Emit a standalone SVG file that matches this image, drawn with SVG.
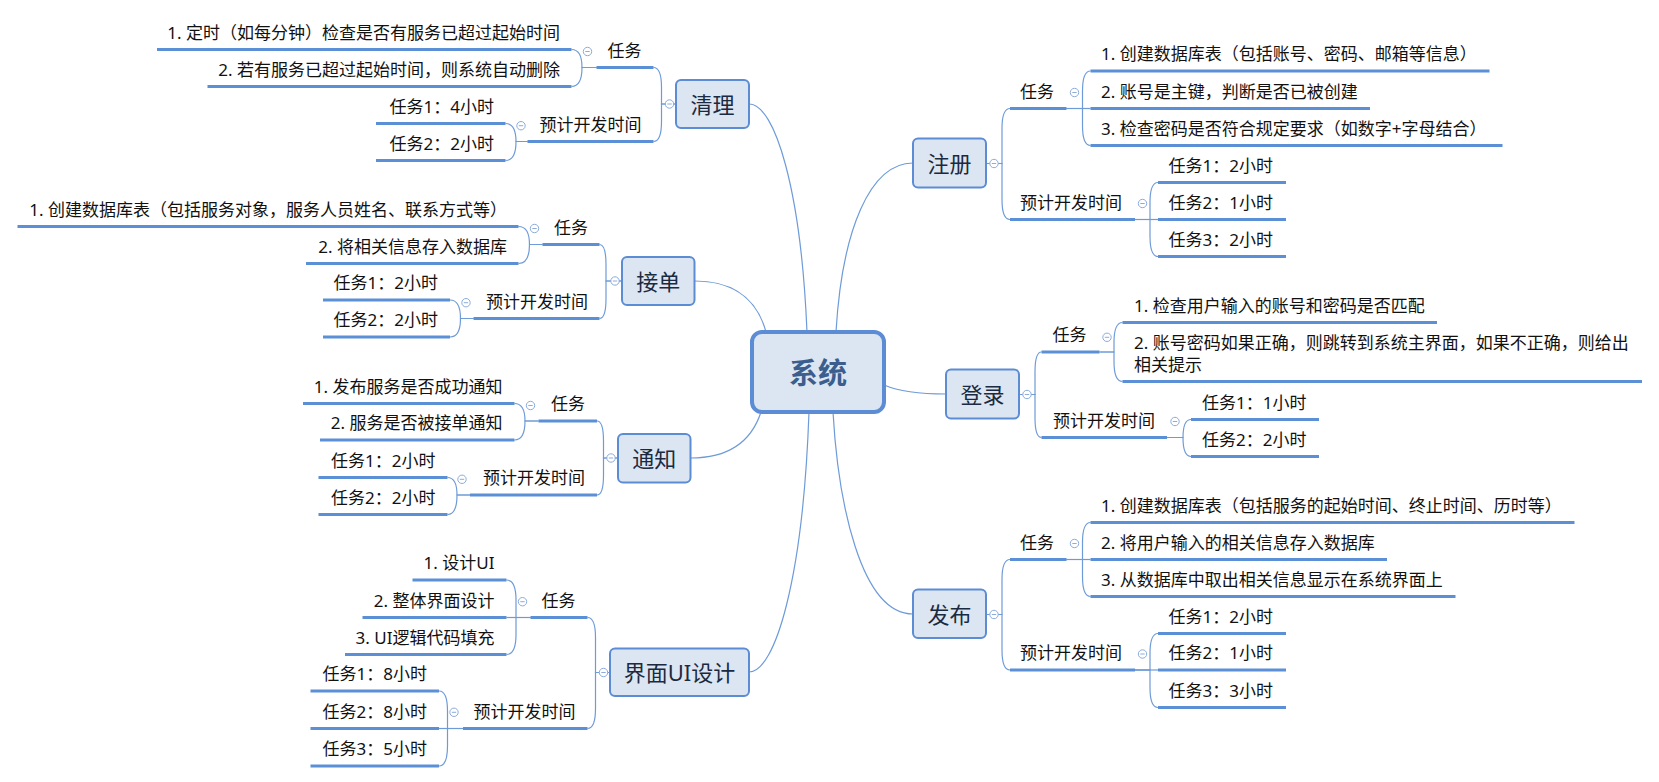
<svg xmlns="http://www.w3.org/2000/svg" xmlns:xlink="http://www.w3.org/1999/xlink" width="1659" height="782" viewBox="0 0 1659 782">
<style>
.box{fill:#dce6f2;stroke:#5b8cd4;stroke-width:2}
.root{fill:#dce6f2;stroke:#5b8cd4;stroke-width:4}
.ul{stroke:#5b8fd6;stroke-width:3;fill:none}
.ln{stroke:#6e9bd8;stroke-width:1.2;fill:none}
.t{font-family:"Noto Sans","Noto Sans CJK SC",sans-serif;font-size:17px;fill:#111}
.e{text-anchor:end}
.nt{font-family:"Noto Sans","Noto Sans CJK SC",sans-serif;font-size:22px;fill:#1b2a40;text-anchor:middle;dominant-baseline:central}
.rt{font-family:"Noto Sans","Noto Sans CJK SC",sans-serif;font-size:29px;font-weight:bold;fill:#3b5e8f;text-anchor:middle;dominant-baseline:central}
</style>
<defs>
<g id="tog"><circle r="4.2" fill="#fff" stroke="#8cacdc" stroke-width="1"/><line x1="-2.2" y1="0" x2="2.2" y2="0" stroke="#8cacdc" stroke-width="1"/></g>
</defs>
<rect width="1659" height="782" fill="#fff"/>
<g id="connectors" class="ln">
<path d="M807,332 C801,190 775,104 749,104"/>
<path d="M766,332 Q752,281 694.5,281"/>
<path d="M761,412 Q746,458 690.5,458"/>
<path d="M809,412 C803,580 775,672 749,672"/>
<path d="M836,332 C842,230 870,163 913,163"/>
<path d="M884,385 Q905,394 946,394"/>
<path d="M833,412 C838,500 860,614 913,614"/>
<!-- 清理 -->
<path d="M676,104 H661.5 V87.5 Q661.5,67.5 653.5,67.5"/>
<path d="M676,104 H661.5 V121.5 Q661.5,141.5 653.5,141.5"/>
<path d="M596.5,67.5 H582 Q582,49.5 571.5,49.5"/>
<path d="M596.5,67.5 H582 Q582,86.5 571.5,86.5"/>
<path d="M527.5,141.5 H516 Q516,123.5 505.5,123.5"/>
<path d="M527.5,141.5 H516 Q516,160.5 505.5,160.5"/>
<!-- 接单 -->
<path d="M622,281 H606 V264.5 Q606,244.5 599.5,244.5"/>
<path d="M622,281 H606 V298.5 Q606,318.5 599.5,318.5"/>
<path d="M542.5,244.5 H529.5 Q529.5,226.5 518.5,226.5"/>
<path d="M542.5,244.5 H529.5 Q529.5,263.5 518.5,263.5"/>
<path d="M473.5,318.5 H460.5 Q460.5,300 450,300"/>
<path d="M473.5,318.5 H460.5 Q460.5,337 450,337"/>
<!-- 通知 -->
<path d="M618,458 H603.5 V441 Q603.5,421 597,421"/>
<path d="M618,458 H603.5 V475 Q603.5,495 597,495"/>
<path d="M538.5,421 H525 Q525,403.5 514.5,403.5"/>
<path d="M538.5,421 H525 Q525,440 514.5,440"/>
<path d="M470,495 H457 Q457,477.5 447.5,477.5"/>
<path d="M470,495 H457 Q457,514.5 447.5,514.5"/>
<!-- 界面UI设计 -->
<path d="M610,672.5 H595.5 V637.5 Q595.5,617.5 587.5,617.5"/>
<path d="M610,672.5 H595.5 V708.5 Q595.5,728.5 587.5,728.5"/>
<path d="M530.5,617.5 H516 V600 Q516,580 506.5,580"/>
<path d="M530.5,617.5 H506.5"/>
<path d="M530.5,617.5 H516 V634.5 Q516,654.5 506.5,654.5"/>
<path d="M463,728.5 H447.5 V711 Q447.5,691 439,691"/>
<path d="M463,728.5 H439"/>
<path d="M463,728.5 H447.5 V746 Q447.5,766 439,766"/>
<!-- 注册 -->
<path d="M986,163.5 H1002 V128.5 Q1002,108.5 1010,108.5"/>
<path d="M986,163.5 H1002 V199.5 Q1002,219.5 1010,219.5"/>
<path d="M1066.5,108.5 H1082.5 V91 Q1082.5,71 1090.5,71"/>
<path d="M1066.5,108.5 H1090.5"/>
<path d="M1066.5,108.5 H1082.5 V125.5 Q1082.5,145.5 1090.5,145.5"/>
<path d="M1135,219.5 H1150 V202.5 Q1150,182.5 1158,182.5"/>
<path d="M1135,219.5 H1158"/>
<path d="M1135,219.5 H1150 V236.5 Q1150,256.5 1158,256.5"/>
<!-- 登录 -->
<path d="M1019,394.5 H1035 V372 Q1035,352 1041.5,352"/>
<path d="M1019,394.5 H1035 V417.5 Q1035,437.5 1041.5,437.5"/>
<path d="M1099.5,352 H1114 V342.5 Q1114,322.5 1122.5,322.5"/>
<path d="M1099.5,352 H1114 V361.5 Q1114,381.5 1122.5,381.5"/>
<path d="M1167,437.5 H1183 Q1183,419.5 1191,419.5"/>
<path d="M1167,437.5 H1183 Q1183,456.5 1191,456.5"/>
<!-- 发布 -->
<path d="M986,614.5 H1002 V579.5 Q1002,559.5 1010,559.5"/>
<path d="M986,614.5 H1002 V650 Q1002,670 1010,670"/>
<path d="M1066.5,559.5 H1082.5 V542.5 Q1082.5,522.5 1090.5,522.5"/>
<path d="M1066.5,559.5 H1090.5"/>
<path d="M1066.5,559.5 H1082.5 V576.5 Q1082.5,596.5 1090.5,596.5"/>
<path d="M1135,670 H1150 V653.5 Q1150,633.5 1158,633.5"/>
<path d="M1135,670 H1158"/>
<path d="M1135,670 H1150 V687.5 Q1150,707.5 1158,707.5"/>
</g>

<g id="root"><rect class="root" x="752" y="332" width="132" height="80" rx="10"/><text class="rt" x="818" y="372">系统</text></g>

<!-- 清理 -->
<g id="n-qingli"><rect class="box" x="676" y="80" width="73" height="48" rx="5"/><text class="nt" x="712.5" y="104">清理</text><use href="#tog" x="669.5" y="104"/></g>
<g id="qingli-task"><path class="ul" d="M596.5,67.5 H653.5"/><text class="t e" x="641.5" y="56.5">任务</text><use href="#tog" x="587.5" y="51.5"/></g>
<g id="qingli-task-1"><path class="ul" d="M157,49.5 H571.5"/><text class="t e" x="560" y="38.5">1. 定时（如每分钟）检查是否有服务已超过起始时间</text></g>
<g id="qingli-task-2"><path class="ul" d="M207.5,86.5 H571.5"/><text class="t e" x="560" y="75.5">2. 若有服务已超过起始时间，则系统自动删除</text></g>
<g id="qingli-time"><path class="ul" d="M527.5,141.5 H653.5"/><text class="t e" x="641.5" y="130.5">预计开发时间</text><use href="#tog" x="521" y="125.7"/></g>
<g id="qingli-time-1"><path class="ul" d="M376,123.5 H505.5"/><text class="t e" x="494" y="112.5">任务1：4小时</text></g>
<g id="qingli-time-2"><path class="ul" d="M376,160.5 H505.5"/><text class="t e" x="494" y="149.5">任务2：2小时</text></g>

<!-- 接单 -->
<g id="n-jiedan"><rect class="box" x="622" y="257" width="72.5" height="48" rx="5"/><text class="nt" x="658.25" y="281">接单</text><use href="#tog" x="615" y="281"/></g>
<g id="jiedan-task"><path class="ul" d="M542.5,244.5 H599.5"/><text class="t e" x="588" y="233.5">任务</text><use href="#tog" x="534.5" y="228.5"/></g>
<g id="jiedan-task-1"><path class="ul" d="M17.5,226.5 H518.5"/><text class="t e" x="507" y="215.5">1. 创建数据库表（包括服务对象，服务人员姓名、联系方式等）</text></g>
<g id="jiedan-task-2"><path class="ul" d="M306,263.5 H518.5"/><text class="t e" x="507" y="252.5">2. 将相关信息存入数据库</text></g>
<g id="jiedan-time"><path class="ul" d="M473.5,318.5 H599.5"/><text class="t e" x="588" y="307.5">预计开发时间</text><use href="#tog" x="466" y="302.7"/></g>
<g id="jiedan-time-1"><path class="ul" d="M323,300 H450"/><text class="t e" x="438" y="289">任务1：2小时</text></g>
<g id="jiedan-time-2"><path class="ul" d="M323,337 H450"/><text class="t e" x="438" y="326">任务2：2小时</text></g>

<!-- 通知 -->
<g id="n-tongzhi"><rect class="box" x="618" y="434" width="72.5" height="48.5" rx="5"/><text class="nt" x="654.25" y="458.25">通知</text><use href="#tog" x="611" y="458"/></g>
<g id="tongzhi-task"><path class="ul" d="M538.5,421 H597"/><text class="t e" x="585" y="410">任务</text><use href="#tog" x="530.5" y="405.5"/></g>
<g id="tongzhi-task-1"><path class="ul" d="M303,403.5 H514.5"/><text class="t e" x="502.5" y="392.5">1. 发布服务是否成功通知</text></g>
<g id="tongzhi-task-2"><path class="ul" d="M320,440 H514.5"/><text class="t e" x="502.5" y="429">2. 服务是否被接单通知</text></g>
<g id="tongzhi-time"><path class="ul" d="M470,495 H597"/><text class="t e" x="585" y="484">预计开发时间</text><use href="#tog" x="462" y="479.3"/></g>
<g id="tongzhi-time-1"><path class="ul" d="M318.5,477.5 H447.5"/><text class="t e" x="435.5" y="466.5">任务1：2小时</text></g>
<g id="tongzhi-time-2"><path class="ul" d="M318.5,514.5 H447.5"/><text class="t e" x="435.5" y="503.5">任务2：2小时</text></g>

<!-- 界面UI设计 -->
<g id="n-ui"><rect class="box" x="610" y="648.5" width="139" height="47.5" rx="5"/><text class="nt" x="679.5" y="672.25">界面UI设计</text><use href="#tog" x="603.5" y="672.5"/></g>
<g id="ui-task"><path class="ul" d="M530.5,617.5 H587.5"/><text class="t e" x="575.5" y="606.5">任务</text><use href="#tog" x="522.5" y="601.7"/></g>
<g id="ui-task-1"><path class="ul" d="M412.5,580 H506.5"/><text class="t e" x="494.5" y="569">1. 设计UI</text></g>
<g id="ui-task-2"><path class="ul" d="M362.5,617.5 H506.5"/><text class="t e" x="494.5" y="606.5">2. 整体界面设计</text></g>
<g id="ui-task-3"><path class="ul" d="M345,654.5 H506.5"/><text class="t e" x="494.5" y="643.5">3. UI逻辑代码填充</text></g>
<g id="ui-time"><path class="ul" d="M463,728.5 H587.5"/><text class="t e" x="575.5" y="717.5">预计开发时间</text><use href="#tog" x="454" y="712.3"/></g>
<g id="ui-time-1"><path class="ul" d="M310.5,691 H439"/><text class="t e" x="427" y="680">任务1：8小时</text></g>
<g id="ui-time-2"><path class="ul" d="M310.5,728.5 H439"/><text class="t e" x="427" y="717.5">任务2：8小时</text></g>
<g id="ui-time-3"><path class="ul" d="M310.5,766 H439"/><text class="t e" x="427" y="755">任务3：5小时</text></g>

<!-- 注册 -->
<g id="n-zhuce"><rect class="box" x="913" y="138.5" width="73" height="49" rx="5"/><text class="nt" x="949.5" y="163">注册</text><use href="#tog" x="994" y="163.5"/></g>
<g id="zhuce-task"><path class="ul" d="M1010,108.5 H1066.5"/><text class="t" x="1020" y="97.5">任务</text><use href="#tog" x="1074.5" y="92.5"/></g>
<g id="zhuce-task-1"><path class="ul" d="M1090.5,71 H1489.5"/><text class="t" x="1101" y="60">1. 创建数据库表（包括账号、密码、邮箱等信息）</text></g>
<g id="zhuce-task-2"><path class="ul" d="M1090.5,108.5 H1370"/><text class="t" x="1101" y="97.5">2. 账号是主键，判断是否已被创建</text></g>
<g id="zhuce-task-3"><path class="ul" d="M1090.5,145.5 H1502.5"/><text class="t" x="1101" y="134.5">3. 检查密码是否符合规定要求（如数字+字母结合）</text></g>
<g id="zhuce-time"><path class="ul" d="M1010,219.5 H1135"/><text class="t" x="1020" y="208.5">预计开发时间</text><use href="#tog" x="1142.5" y="203.5"/></g>
<g id="zhuce-time-1"><path class="ul" d="M1158,182.5 H1286"/><text class="t" x="1168.5" y="171.5">任务1：2小时</text></g>
<g id="zhuce-time-2"><path class="ul" d="M1158,219.5 H1286"/><text class="t" x="1168.5" y="208.5">任务2：1小时</text></g>
<g id="zhuce-time-3"><path class="ul" d="M1158,256.5 H1286"/><text class="t" x="1168.5" y="245.5">任务3：2小时</text></g>

<!-- 登录 -->
<g id="n-denglu"><rect class="box" x="946" y="369.5" width="73" height="49" rx="5"/><text class="nt" x="982.5" y="394">登录</text><use href="#tog" x="1027" y="394.5"/></g>
<g id="denglu-task"><path class="ul" d="M1041.5,352 H1099.5"/><text class="t" x="1052.5" y="341">任务</text><use href="#tog" x="1107" y="337.3"/></g>
<g id="denglu-task-1"><path class="ul" d="M1122.5,322.5 H1437"/><text class="t" x="1134" y="311.5">1. 检查用户输入的账号和密码是否匹配</text></g>
<g id="denglu-task-2"><path class="ul" d="M1122.5,381.5 H1642"/><text class="t" x="1134" y="348.5">2. 账号密码如果正确，则跳转到系统主界面，如果不正确，则给出</text><text class="t" x="1134" y="370.5">相关提示</text></g>
<g id="denglu-time"><path class="ul" d="M1041.5,437.5 H1167"/><text class="t" x="1053" y="426.5">预计开发时间</text><use href="#tog" x="1175" y="421.5"/></g>
<g id="denglu-time-1"><path class="ul" d="M1191,419.5 H1319"/><text class="t" x="1202" y="408.5">任务1：1小时</text></g>
<g id="denglu-time-2"><path class="ul" d="M1191,456.5 H1319"/><text class="t" x="1202" y="445.5">任务2：2小时</text></g>

<!-- 发布 -->
<g id="n-fabu"><rect class="box" x="913" y="589.5" width="73" height="48.5" rx="5"/><text class="nt" x="949.5" y="613.75">发布</text><use href="#tog" x="994" y="614.5"/></g>
<g id="fabu-task"><path class="ul" d="M1010,559.5 H1066.5"/><text class="t" x="1020" y="548.5">任务</text><use href="#tog" x="1074.5" y="543.5"/></g>
<g id="fabu-task-1"><path class="ul" d="M1090.5,522.5 H1574.5"/><text class="t" x="1101" y="511.5">1. 创建数据库表（包括服务的起始时间、终止时间、历时等）</text></g>
<g id="fabu-task-2"><path class="ul" d="M1090.5,559.5 H1387"/><text class="t" x="1101" y="548.5">2. 将用户输入的相关信息存入数据库</text></g>
<g id="fabu-task-3"><path class="ul" d="M1090.5,596.5 H1455.5"/><text class="t" x="1101" y="585.5">3. 从数据库中取出相关信息显示在系统界面上</text></g>
<g id="fabu-time"><path class="ul" d="M1010,670 H1135"/><text class="t" x="1020" y="659">预计开发时间</text><use href="#tog" x="1142.5" y="654"/></g>
<g id="fabu-time-1"><path class="ul" d="M1158,633.5 H1286"/><text class="t" x="1168.5" y="622.5">任务1：2小时</text></g>
<g id="fabu-time-2"><path class="ul" d="M1158,670 H1286"/><text class="t" x="1168.5" y="659">任务2：1小时</text></g>
<g id="fabu-time-3"><path class="ul" d="M1158,707.5 H1286"/><text class="t" x="1168.5" y="696.5">任务3：3小时</text></g>
</svg>
